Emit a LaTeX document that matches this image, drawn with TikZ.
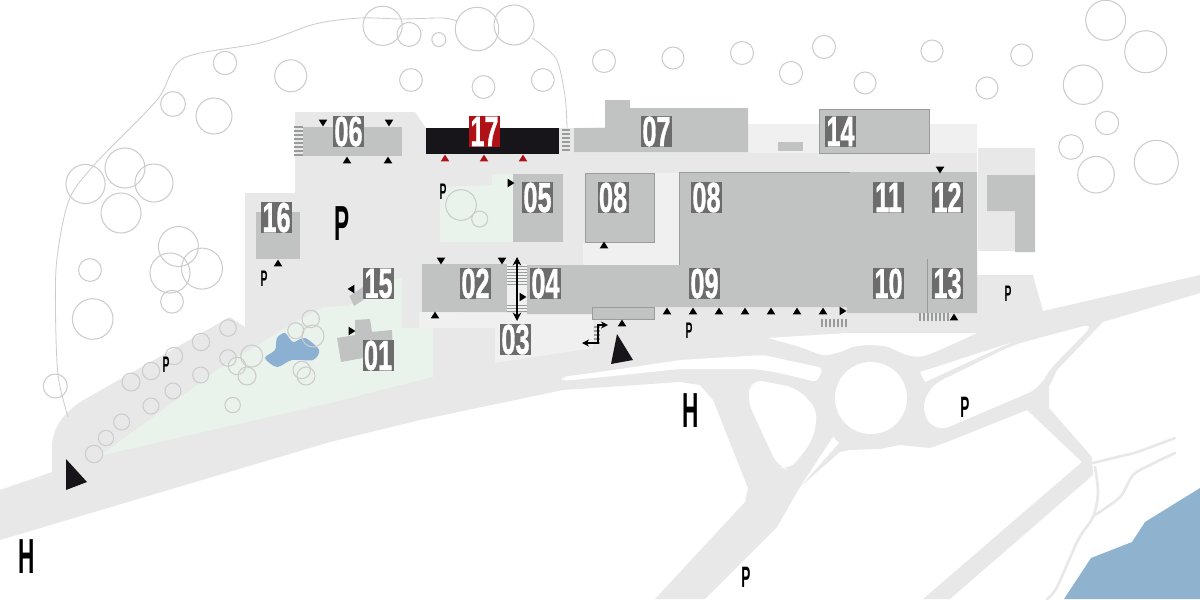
\documentclass[tikz,border=0pt]{standalone}
\usepackage{fontspec}
\setsansfont{Liberation Sans}
\newfontfamily\stencilfont[FakeBold=1.2]{Liberation Sans Bold}
\usetikzlibrary{arrows.meta}

\definecolor{groundgray}{HTML}{E8E8E8}
\definecolor{lightgray}{HTML}{F0F0F0}
\definecolor{parkgreen}{HTML}{EAF2EC}
\definecolor{hallgray}{HTML}{C1C3C2}
\definecolor{edgegray}{HTML}{9A9C9B}
\definecolor{treegray}{HTML}{CBCCCB}
\definecolor{tagdark}{HTML}{6C6C6C}
\definecolor{tagred}{HTML}{B01116}
\definecolor{halldark}{HTML}{17151A}
\definecolor{pondblue}{HTML}{8CB0D2}
\definecolor{riverblue}{HTML}{8FB2CF}

\newcommand{\narrowtext}[1]{\scalebox{.6}[1]{#1}}
\newcommand{\signtext}[1]{\scalebox{.46}[1]{#1}}

\tikzset{
	hall/.style={fill=hallgray},
	edgehall/.style={fill=hallgray, draw=edgegray, line width=.7pt},
	treeline/.style={draw=treegray, line width=.75pt},
	thinroad/.style={draw=groundgray, line width=1.9pt, line cap=round},
	stairline/.style={draw=edgegray, line width=.8pt},
	numtag/.style={fill=tagdark, text=white, inner sep=0pt, minimum size=.775cm,
		font=\stencilfont\fontsize{30}{30}\selectfont},
	parksign/.style={inner sep=0pt, font=\sffamily\bfseries\fontsize{16}{16}\selectfont},
	midsign/.style={inner sep=0pt, font=\sffamily\bfseries\fontsize{21}{21}\selectfont},
	bigsign/.style={inner sep=0pt, font=\sffamily\bfseries\fontsize{35}{35}\selectfont},
	pics/door/.style={code={\fill (-4.3,3.4) -- (4.3,3.4) -- (0,-3.4) -- cycle;}},
}

\begin{document}
\begin{tikzpicture}[x=.025cm, y=-.025cm]
	\useasboundingbox (0,0) rectangle (1200,599);

	\fill[groundgray] (0,490) -- (52,472) -- (52,447) .. controls (52,430) and (62,412) .. (87,398)
		-- (230,317) -- (245,327) -- (245,193) -- (295,193)
		-- (295,112) -- (415,112) -- (426,128) -- (574,128) -- (748,124) -- (977,124)
		-- (977,275) -- (1033,275) -- (1043,311) -- (1200,275) -- (1200,293) -- (1103,322)
		-- (1057,370) -- (1049,387) -- (1049,408) -- (1092,457) -- (1093,475) -- (950,599)
		-- (923,599) -- (1082,462) -- (1027,410) -- (947,442) -- (930,448) -- (900,445)
		-- (880,449) -- (850,450) -- (840,452) -- (800,487) -- (777,527) -- (705,599)
		-- (655,599) -- (745,502) -- (748,488) -- (713,400) -- (700,385) -- (680,382)
		-- (563,390) -- (420,420) -- (330,442) -- (0,540) -- cycle;
	\fill[groundgray] (978,148) rectangle (1035,251);

	\fill[lightgray] (748,124) rectangle (977,153);
	\fill[lightgray] (583,242) -- (654,242) -- (654,173) -- (679,173) -- (679,265) -- (583,265) -- cycle;
	\fill[lightgray] (419,312) -- (593,314) -- (593,348) -- (495,363) -- (495,328) -- (419,328) -- cycle;
	\fill[lightgray] (507,264) rectangle (527,312);

	\fill[parkgreen] (97,458) -- (220,368) -- (290,325) -- (323,307) -- (348,306) -- (363,297)
		-- (375,282) -- (402,278) -- (402,328) -- (433,328) -- (433,377) -- (330,403) -- (103,455) -- cycle;
	\fill[parkgreen] (440,242) -- (513,242) -- (513,174) -- (492,174) -- (492,185) -- (440,187) -- cycle;

	\fill[white, rounded corners=3pt] (562,377) -- (613,370) -- (680,360) -- (763,355) -- (823,368)
		-- (817,382) -- (775,372) -- (753,369) -- (680,369) -- (613,376) -- (562,381) -- cycle;
	\fill[white] plot[smooth] coordinates {(768,338) (800,347) (823,355) (840,352) (853,347) (870,345)
		(888,347) (907,355) (927,355) (977,333)} -- (847,333) -- cycle;
	\fill[white] (871,398) circle[radius=36];
	\fill[white, rounded corners=8pt] (752,379) -- (797,388) -- (818,410) -- (813,440) -- (790,470)
		-- (778,467) -- (747,400) -- cycle;
	\fill[white] (833,437) -- (839,443) -- (800,487) -- cycle;
	\fill[white] (920,372) -- (1010,343) -- (925,382) -- cycle;
	\fill[white, rounded corners=9pt] (1095,323) -- (1013,345) -- (930,386) -- (921,412) -- (937,432)
		-- (1040,388) -- (1047,372) -- cycle;

	\draw[thinroad] plot[smooth] coordinates {(1093,463) (1117,457) (1137,452) (1175,438)};
	\draw[thinroad] plot[smooth] coordinates {(1095,515) (1120,497) (1133,475) (1150,465) (1175,453)};
	\draw[thinroad] plot[smooth] coordinates {(1095,467) (1098,493) (1093,517) (1078,540) (1057,587) (1047,599)};

	\fill[riverblue] (1200,488) -- (1145,522) -- (1132,542) -- (1091,558) -- (1064,599) -- (1200,599) -- cycle;
	\fill[pondblue] plot[smooth cycle] coordinates {(265,358) (275,350) (277,338) (285,333) (293,342)
		(305,338) (319,350) (313,360) (292,360) (277,367)};

	\draw[treegray, line width=.6pt] plot[smooth] coordinates {(68,417) (58,375) (55.5,310) (57,258) (69,200)
		(95,164) (157,100) (183,58.5) (260,43) (315,24) (360,18) (401,19) (443,18) (457,21)};
	\draw[treegray, line width=.6pt] plot[smooth] coordinates {(532,38) (556,58.5) (565,96) (567,128)};

	\foreach \cx/\cy/\cr in {382.6/25.8/19.6, 409/34.4/12, 438.8/39.6/7, 477/29/21.7, 514/25/20,
		225/63/11.7, 290.7/75.8/16, 411/80/11.4, 483.5/87/11.4, 542.8/80/11.4, 173/104/12.4, 214/116/18,
		85.5/184/19.6, 125/168/20, 154/183/19, 121/213/20, 178.4/246.5/20, 202/268.6/20.5, 170/273/20,
		90/270/11.4, 172/301.7/11.4, 92.7/319/20.3, 55.3/386/12,
		604/61/11.5, 673/58/11, 742/53/11.5, 824/47/11.5, 791/73/11.5, 865/83/11, 932/51/11, 987/88/11,
		1021.7/55/11, 1105.7/20.3/20, 1145.7/51.7/21, 1083/84.7/19.7, 1107/123/11.7, 1071/147/12.3,
		1096/174.7/18.3, 1156.3/162.3/22,
		94/454/8.7, 106/438/7.7, 121.7/422/8, 131/382/9, 151/371/8.7, 174/356/8.7, 201/342/8.7, 228/328/8.3,
		151/406/8, 173/391/8, 200.7/375/8, 228/358/8.3, 237/366/8.7, 251.7/356/11, 247/376/9, 232.7/405/7.7,
		295.7/330.7/8, 310.7/319/8.7, 313/336/11, 301.7/370/8.7, 306/376/9, 461/205/15.3, 479.7/219/8}
		\draw[treeline] (\cx,\cy) circle[radius=\cr];

	\fill[hall] (303,127) rectangle (402,156);
	\fill[halldark] (426,128) rectangle (559,154);
	\fill[hall] (574,152) -- (574,128) -- (605,128) -- (605,100) -- (630,100) -- (630,108) -- (748,108) -- (748,152) -- cycle;
	\fill[hall] (513,174) rectangle (563,242);
	\draw[edgehall] (585,173) rectangle (654,242);
	\fill[hall] (679,172) -- (977,172) -- (977,313) -- (847,313) -- (847,307) -- (592,307) -- (592,314)
		-- (527,314) -- (527,265) -- (679,265) -- cycle;
	\draw[edgegray, line width=.5pt] (850,172) -- (679,172) -- (679,265);
	\draw[edgegray, line width=.7pt] (927,259) -- (927,313);
	\draw[edgehall] (592.5,307) rectangle (654,319);
	\fill[hall] (422,264) rectangle (507,312);
	\fill[hall] (256,212) rectangle (300,259);
	\draw[edgehall] (819,109) rectangle (929,153);
	\fill[hall] (778,142) rectangle (803,151);
	\fill[hall] (987,175) -- (1035,175) -- (1035,252) -- (1015,252) -- (1015,211) -- (987,211) -- cycle;
	\fill[hall] (349.5,296) -- (363,287) -- (363,300) -- (354,306) -- cycle;
	\fill[hall] (337,338) -- (355,335) -- (355,320) -- (370,319) -- (372,332) -- (392,330) -- (393,353)
		-- (363,358) -- (341,362) -- cycle;

	\foreach \sy in {127,131,...,155}
		\draw[stairline, line width=1.1pt] (294,\sy) -- (303,\sy);
	\foreach \sy in {130,134,...,152}
		\draw[stairline, line width=1.1pt] (562,\sy) -- (570,\sy);
	\foreach \sy in {266,269,...,284}
		\draw[stairline, line width=.5pt] (507,\sy) -- (527,\sy);
	\foreach \sy in {305,308,311}
		\draw[stairline, line width=.5pt] (507,\sy) -- (527,\sy);
	\foreach \sx in {822,826,...,846}
		\draw[stairline] (\sx,319) -- (\sx,327);
	\foreach \sx in {920,924,...,950}
		\draw[stairline] (\sx,313) -- (\sx,321);
	\foreach \sy in {327,331,...,343}
		\draw[stairline] (594,\sy) -- (600,\sy);

	\foreach \name/\cx/\cy in {06/348.5/131.5, 05/537.5/197.5, 16/276.5/217.5, 15/378.5/283.5, 01/378/355.5,
		02/475.5/283.5, 04/545.5/283.5, 03/515.5/339.5, 07/656.5/131.5, 08/613/197.5, 11/888.5/197.5,
		12/947.5/197.5, 09/704.5/283.5, 10/888.5/283.5, 13/947.5/283.5, 14/840.5/131.5}
		\node[numtag] (tag\name) at (\cx,\cy) {\narrowtext{\name}};
	\node[numtag] (tag08b) at (706.5,197.5) {\narrowtext{08}};
	\node[numtag, fill=tagred] (tag17) at (484.5,131.5) {\narrowtext{17}};

	\foreach \dx/\dy in {347/160, 388/160, 278/263, 435/315, 604/245, 622/323, 667/311, 693/311, 719/311,
		745/311, 771/311, 797/311, 823/311, 954/317}
		\pic at (\dx,\dy) {door};
	\foreach \dx/\dy in {323/123, 389/123, 441/261, 502/261, 940/170}
		\pic[rotate=180] at (\dx,\dy) {door};
	\foreach \dx/\dy in {511/183, 523/297, 352/331, 843/311}
		\pic[rotate=-90] at (\dx,\dy) {door};
	\pic[rotate=90] at (351,289) {door};
	\foreach \dx in {445,484,523}
		\pic[color=tagred] at (\dx,158) {door};

	\coordinate (ramptop) at (517,257);
	\coordinate (rampbot) at (517,321);
	\coordinate (stepa)   at (582,343);
	\coordinate (stepb)   at (598,343);
	\coordinate (stepc)   at (598,325);
	\coordinate (stepd)   at (608,325);

	\draw[{Stealth[length=6pt,width=6pt]}-{Stealth[length=6pt,width=6pt]}, line width=.8pt] (ramptop) -- (rampbot);
	\draw[{Stealth[length=5pt,width=5pt]}-{Stealth[length=5pt,width=5pt]}, line width=.8pt] (stepa) -- (stepb) -- (stepc) -- (stepd);

	\fill[halldark] (617,334) -- (633,360) -- (611,364) -- cycle;
	\fill[halldark] (66,459) -- (87,482) -- (66,490) -- cycle;

	\node[bigsign] (pmain) at (342,224) {\signtext{P}};
	\node[bigsign] (hroad) at (691,411) {\signtext{H}};
	\node[bigsign] (hwest) at (27,557) {\signtext{H}};
	\node[parksign] (pcourt) at (443,192) {\signtext{P}};
	\node[parksign] (phall) at (264,279) {\signtext{P}};
	\node[parksign] (ppark) at (166,365) {\signtext{P}};
	\node[parksign] (pentry) at (689,331) {\signtext{P}};
	\node[parksign] (peast) at (1008,294) {\signtext{P}};
	\node[midsign] (pisle) at (965,407) {\signtext{P}};
	\node[midsign] (psouth) at (746,577) {\signtext{P}};
\end{tikzpicture}
\end{document}
